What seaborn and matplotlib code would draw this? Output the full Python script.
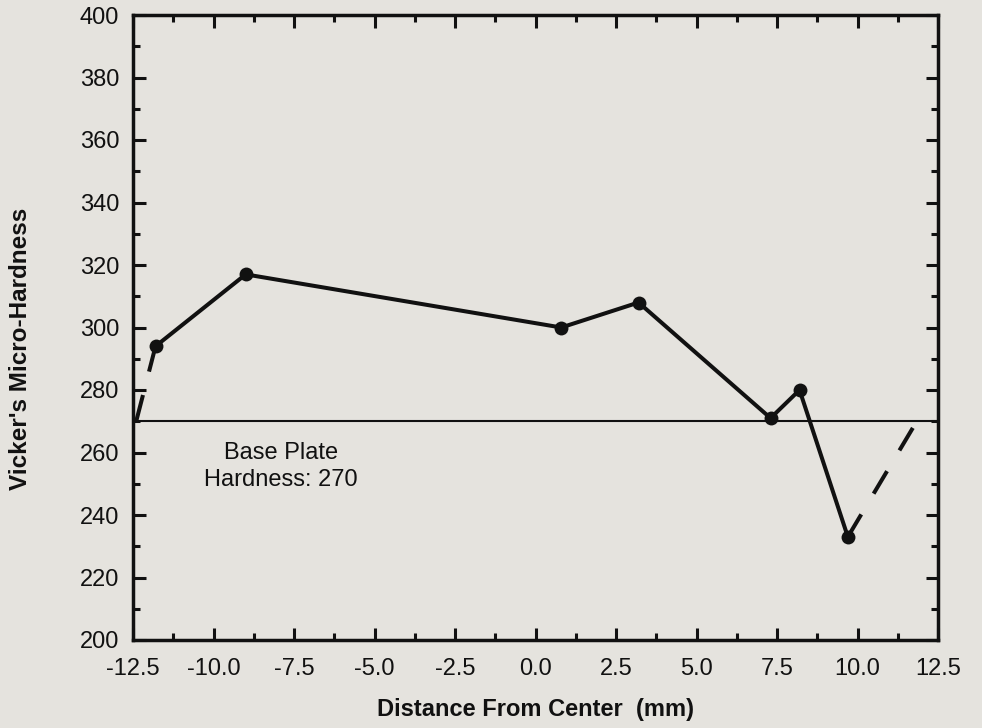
import matplotlib
matplotlib.use("Agg")
import matplotlib.pyplot as plt
import seaborn as sns
import pandas as pd
from matplotlib.ticker import MultipleLocator, FormatStrFormatter

# Measured hardness across the weld
distance = [-11.8, -9.0, 0.8, 3.2, 7.3, 8.2, 9.7]
hardness = [294, 317, 300, 308, 271, 280, 233]

# Estimated transitions back to base plate hardness
left_ext_x = [-11.8, -12.4]
left_ext_y = [294, 270]
right_ext_x = [9.7, 11.9]
right_ext_y = [233, 271]

base_hardness = 270
x_ticks = [-12.5, -10.0, -7.5, -5.0, -2.5, 0.0, 2.5, 5.0, 7.5, 10.0, 12.5]
y_ticks = [200, 220, 240, 260, 280, 300, 320, 340, 360, 380, 400]

sns.set_theme(style="ticks")
bg = "#e5e3de"
plt.rcParams["font.family"] = ["Liberation Sans", "DejaVu Sans"]

fig = plt.figure(figsize=(9.82, 7.28), dpi=100, facecolor=bg)
ax = fig.add_axes([133 / 982, 1 - 640 / 728, (938 - 133) / 982, (640 - 15) / 728])
ax.set_facecolor(bg)

main = pd.DataFrame({"distance": distance, "hardness": hardness})
sns.lineplot(data=main, x="distance", y="hardness", ax=ax, color="#111111",
             linewidth=2.9, marker="o", markersize=10, markeredgewidth=0,
             sort=False, zorder=4)

for ex, ey in [(left_ext_x, left_ext_y), (right_ext_x, right_ext_y)]:
    ext = pd.DataFrame({"distance": ex, "hardness": ey})
    sns.lineplot(data=ext, x="distance", y="hardness", ax=ax, color="#111111",
                 linewidth=2.9, linestyle=(0, (6.5, 6)), sort=False, zorder=3)

ax.axhline(base_hardness, color="#111111", linewidth=1.5, zorder=2)
ax.text(-7.9, 255.5, "Base Plate\nHardness: 270", ha="center", va="center",
        fontsize=17, color="#111111", linespacing=1.25)

ax.set_xlim(-12.5, 12.5)
ax.set_ylim(200, 400)
ax.set_xticks(x_ticks)
ax.set_yticks(y_ticks)
ax.xaxis.set_major_formatter(FormatStrFormatter("%.1f"))
ax.xaxis.set_minor_locator(MultipleLocator(1.25))
ax.yaxis.set_minor_locator(MultipleLocator(10))

ax.tick_params(which="both", direction="in", top=True, right=True,
               color="#111111", width=2.2)
ax.tick_params(which="major", length=9, labelsize=17, labelcolor="#111111")
ax.tick_params(axis="x", which="major", pad=13)
ax.tick_params(axis="y", which="major", pad=10)
ax.tick_params(which="minor", length=5)
for s in ax.spines.values():
    s.set_linewidth(2.5)
    s.set_color("#111111")

ax.set_xlabel("Distance From Center  (mm)", fontsize=17, fontweight="bold",
              color="#111111", labelpad=13)
ax.set_ylabel("Vicker's Micro-Hardness", fontsize=17.5, fontweight="bold",
              color="#111111")
ax.yaxis.set_label_coords(-0.1255, 0.466)

fig.savefig("out.png", dpi=100, facecolor=bg)
